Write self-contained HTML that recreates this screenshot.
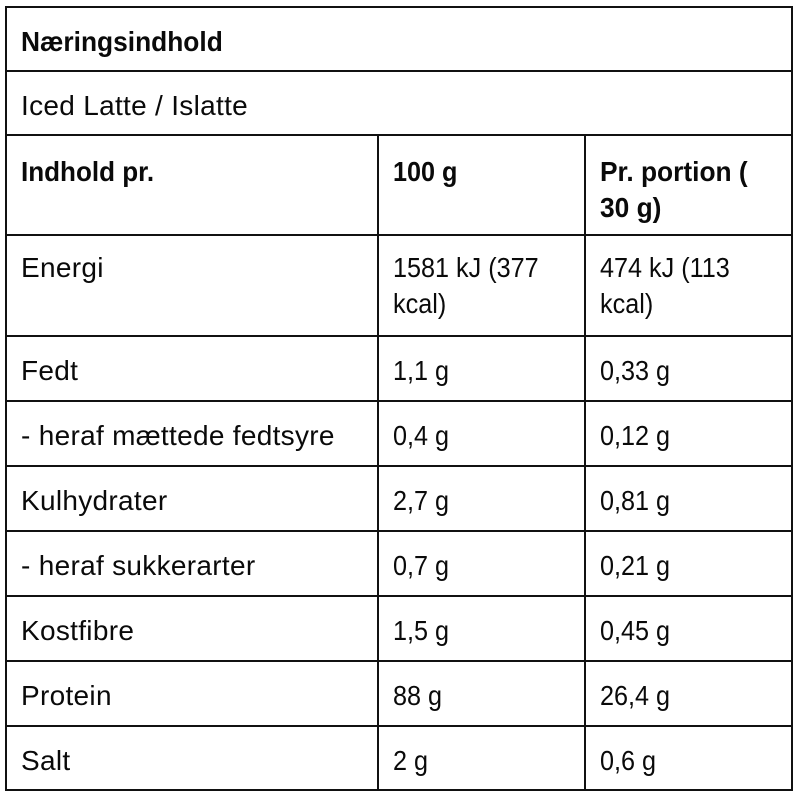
<!DOCTYPE html>
<html>
<head>
<meta charset="utf-8">
<style>
html,body{margin:0;padding:0;background:#fff;}
body{width:800px;height:796px;position:relative;overflow:hidden;font-family:"Liberation Sans",Arial,sans-serif;color:#0a0a0a;}
.h{position:absolute;left:5px;width:788px;height:2px;background:#111;}
.v{position:absolute;width:2px;background:#111;}
.t{position:absolute;font-size:28px;line-height:36px;white-space:nowrap;transform-origin:0 0;}
.l{letter-spacing:0.3px;}
.n{letter-spacing:0;transform:scaleX(0.9);}
.b{font-weight:bold;letter-spacing:0;transform:scaleX(0.94);}
.c1{left:21px;}
.c2{left:393px;}
.c3{left:600px;}
</style>
</head>
<body>
<!-- horizontal lines -->
<div class="h" style="top:6px"></div>
<div class="h" style="top:70px"></div>
<div class="h" style="top:134px"></div>
<div class="h" style="top:234px"></div>
<div class="h" style="top:335px"></div>
<div class="h" style="top:400px"></div>
<div class="h" style="top:465px"></div>
<div class="h" style="top:530px"></div>
<div class="h" style="top:595px"></div>
<div class="h" style="top:660px"></div>
<div class="h" style="top:725px"></div>
<div class="h" style="top:789px"></div>
<!-- vertical lines -->
<div class="v" style="left:5px;top:6px;height:785px"></div>
<div class="v" style="left:791px;top:6px;height:785px"></div>
<div class="v" style="left:377px;top:134px;height:657px"></div>
<div class="v" style="left:584px;top:134px;height:657px"></div>

<div class="t b c1" style="top:24px">Næringsindhold</div>
<div class="t l c1" style="top:88px">Iced Latte / Islatte</div>

<div class="t b c1" style="top:154px;transform:scaleX(0.93)">Indhold pr.</div>
<div class="t b c2" style="top:154px;transform:scaleX(0.9)">100 g</div>
<div class="t b c3" style="top:154px">Pr. portion (<br>30 g)</div>

<div class="t l c1" style="top:250px">Energi</div>
<div class="t n c2" style="top:250px">1581 kJ (377<br>kcal)</div>
<div class="t n c3" style="top:250px">474 kJ (113<br>kcal)</div>

<div class="t l c1" style="top:353px">Fedt</div>
<div class="t n c2" style="top:353px">1,1 g</div>
<div class="t n c3" style="top:353px">0,33 g</div>

<div class="t l c1" style="top:418px">- heraf mættede fedtsyre</div>
<div class="t n c2" style="top:418px">0,4 g</div>
<div class="t n c3" style="top:418px">0,12 g</div>

<div class="t l c1" style="top:483px">Kulhydrater</div>
<div class="t n c2" style="top:483px">2,7 g</div>
<div class="t n c3" style="top:483px">0,81 g</div>

<div class="t l c1" style="top:548px">- heraf sukkerarter</div>
<div class="t n c2" style="top:548px">0,7 g</div>
<div class="t n c3" style="top:548px">0,21 g</div>

<div class="t l c1" style="top:613px">Kostfibre</div>
<div class="t n c2" style="top:613px">1,5 g</div>
<div class="t n c3" style="top:613px">0,45 g</div>

<div class="t l c1" style="top:678px">Protein</div>
<div class="t n c2" style="top:678px">88 g</div>
<div class="t n c3" style="top:678px">26,4 g</div>

<div class="t l c1" style="top:743px">Salt</div>
<div class="t n c2" style="top:743px">2 g</div>
<div class="t n c3" style="top:743px">0,6 g</div>
</body>
</html>
